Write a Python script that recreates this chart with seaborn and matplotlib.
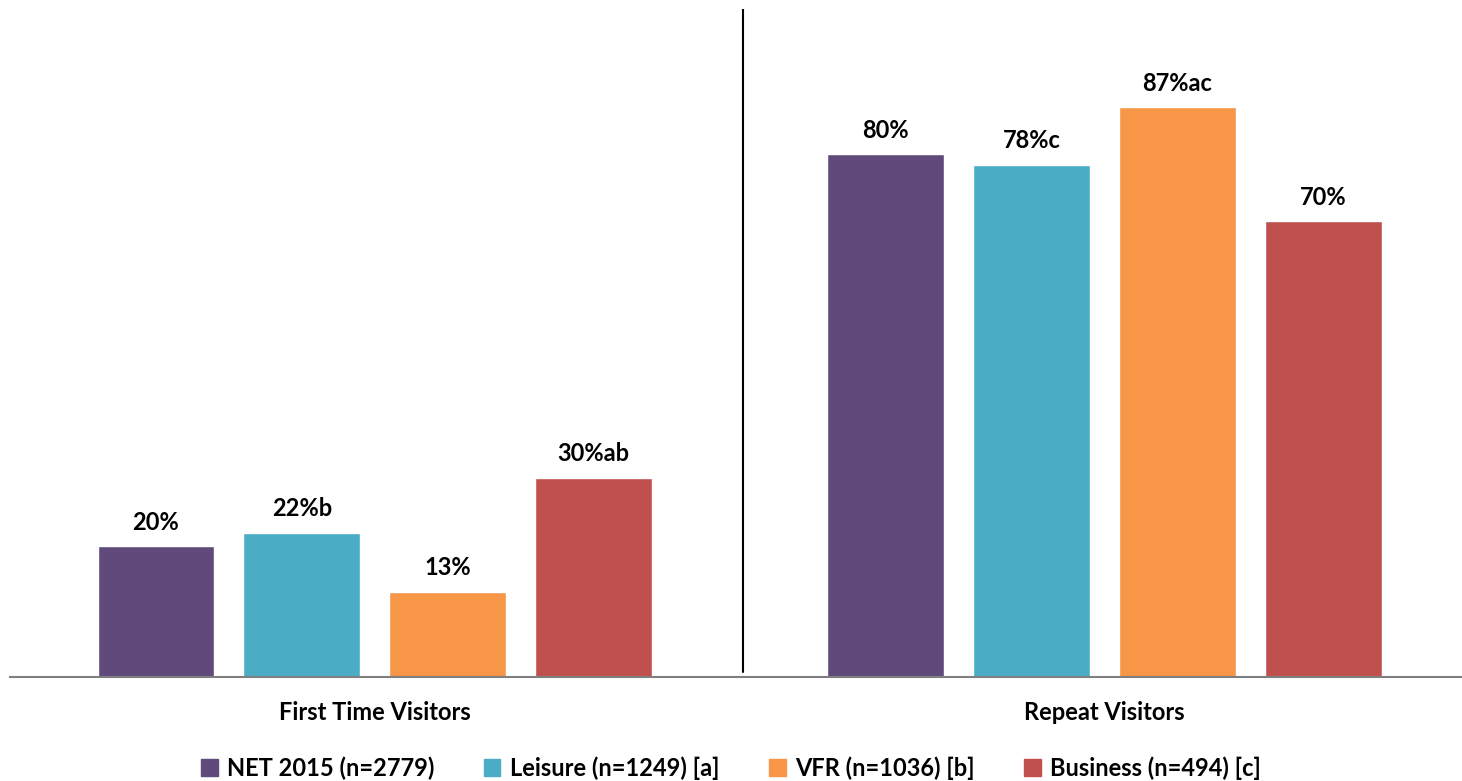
import matplotlib
matplotlib.use("Agg")
import matplotlib.pyplot as plt
import pandas as pd
import seaborn as sns

categories = ["First Time Visitors", "Repeat Visitors"]
segments = ["NET 2015 (n=2779)", "Leisure (n=1249) [a]", "VFR (n=1036) [b]", "Business (n=494) [c]"]
values = {
    "NET 2015 (n=2779)": [20, 79.8],
    "Leisure (n=1249) [a]": [22, 78.2],
    "VFR (n=1036) [b]": [13, 87],
    "Business (n=494) [c]": [30.4, 69.6],
}
labels = {
    "NET 2015 (n=2779)": ["20%", "80%"],
    "Leisure (n=1249) [a]": ["22%b", "78%c"],
    "VFR (n=1036) [b]": ["13%", "87%ac"],
    "Business (n=494) [c]": ["30%ab", "70%"],
}
colors = ["#604A7B", "#4BACC6", "#F79646", "#C0504D"]

rows = []
for seg in segments:
    for cat, v in zip(categories, values[seg]):
        rows.append({"category": cat, "segment": seg, "value": v})
df = pd.DataFrame(rows)

sns.set_style("white")
plt.rcParams["font.family"] = ["Lato", "DejaVu Sans"]
plt.rcParams["text.color"] = "black"
plt.rcParams["xtick.color"] = "black"

fig = plt.figure(figsize=(14.62, 7.81), dpi=100)
ax = fig.add_axes([10 / 1462, 104 / 781, 1452 / 1462, 668 / 781])

sns.barplot(data=df, x="category", y="value", hue="segment", hue_order=segments,
            palette=colors, width=0.8, gap=0.2, saturation=1, ax=ax, legend=False)

for container, seg in zip(ax.containers, segments):
    ax.bar_label(container, labels=labels[seg], padding=9, fontsize=17, fontweight="bold",
                 color="black")

ax.set_xlim(-0.5, 1.49)
ax.set_ylim(0, 102)
ax.axvline(0.505, ymin=0.008, ymax=1, color="black", lw=1.5)

ax.set_xlabel("")
ax.set_ylabel("")
ax.set_yticks([])
ax.tick_params(axis="x", length=0, pad=17, labelsize=17, labelcolor="black")
for t in ax.get_xticklabels():
    t.set_fontweight("bold")
for s in ["top", "left", "right"]:
    ax.spines[s].set_visible(False)
ax.spines["bottom"].set_color("#7F7F7F")
ax.spines["bottom"].set_linewidth(1.5)

handles = [plt.Rectangle((0, 0), 1, 1, color=c) for c in colors]
fig.legend(handles, segments, loc="center", bbox_to_anchor=(0.5, 1 - 768 / 781), ncol=4,
           frameon=False, prop={"weight": "bold", "size": 17}, labelcolor="black",
           handlelength=0.7, handleheight=0.7, handletextpad=0.4, columnspacing=2.1)

fig.savefig("out.png", dpi=100)
